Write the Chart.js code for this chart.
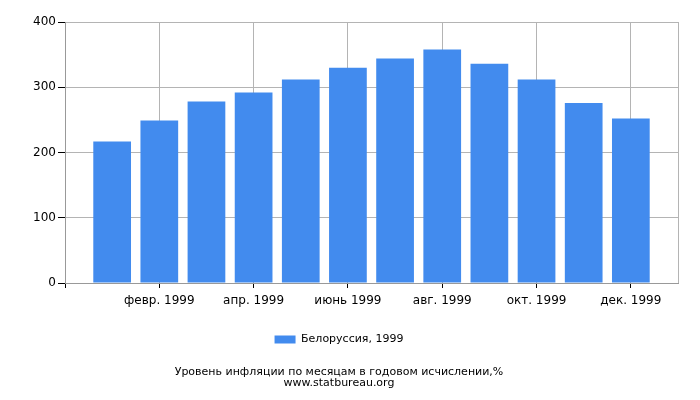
<!DOCTYPE html>
<html>
<head>
<meta charset="utf-8">
<script src="https://cdn.jsdelivr.net/npm/chart.js@4"></script>
<style>
  body { margin: 0; background: #fff; }
  #wrap { width: 700px; height: 400px; }
</style>
</head>
<body>
<div id="wrap"><canvas id="chart" width="700" height="400"></canvas></div>
<script>
const months = ["янв. 1999", "февр. 1999", "март 1999", "апр. 1999", "май 1999", "июнь 1999",
                "июль 1999", "авг. 1999", "сент. 1999", "окт. 1999", "нояб. 1999", "дек. 1999"];
const values = [217, 249, 278, 292, 312, 330, 344, 358, 336, 312, 276, 252];
const yTicks = [0, 100, 200, 300, 400];
const seriesName = "Белоруссия, 1999";
const titleLines = ["Уровень инфляции по месяцам в годовом исчислении,%", "www.statbureau.org"];

// empty slot on each side, like the original time axis (dec 1998 .. jan 2000)
const labels = ["", ...months, ""];
const data = [null, ...values, null];

const font = { family: "DejaVu Sans", size: 12 };
const small = { family: "DejaVu Sans", size: 11 };
const gridGrey = "#b4b4b4";

new Chart(document.getElementById("chart"), {
    type: "bar",
    data: {
        labels: labels,
        datasets: [{
            label: seriesName,
            data: data,
            backgroundColor: "#428bee",
            barPercentage: 0.8,
            categoryPercentage: 1.0
        }]
    },
    options: {
        responsive: false,
        animation: false,
        devicePixelRatio: 1,
        layout: { padding: { left: 0, right: 22, top: 22, bottom: 0 } },
        scales: {
            x: {
                offset: false,
                grid: {
                    offset: false,
                    color: (c) => (c.index % 2 === 0 || c.index === labels.length - 1) ? gridGrey : "rgba(0,0,0,0)",
                    tickColor: (c) => (c.index % 2 === 0 && c.index < labels.length - 1) ? "#000" : "rgba(0,0,0,0)",
                    tickLength: 5
                },
                border: { color: "#999" },
                ticks: {
                    autoSkip: false,
                    maxRotation: 0,
                    padding: 6,
                    color: "#000",
                    font: font,
                    callback: (v, i) => i % 2 === 0 ? labels[i] : ""
                },
                afterFit: (s) => { s.height = 41; }
            },
            y: {
                min: yTicks[0],
                max: yTicks[yTicks.length - 1],
                ticks: { stepSize: 100, color: "#000", font: font, padding: 2 },
                grid: { color: gridGrey, tickColor: "#000", tickLength: 7 },
                border: { color: "#999" },
                afterFit: (s) => { s.width = 65; }
            }
        },
        plugins: {
            legend: {
                position: "bottom",
                labels: { boxWidth: 21, boxHeight: 8, font: small, color: "#000", padding: 10 }
            },
            title: {
                display: true,
                position: "bottom",
                text: titleLines,
                color: "#000",
                font: { family: "DejaVu Sans", size: 11, weight: "normal", lineHeight: 1.0 },
                padding: { top: 12, bottom: 11 }
            },
            tooltip: { enabled: false }
        }
    }
});
</script>
</body>
</html>
